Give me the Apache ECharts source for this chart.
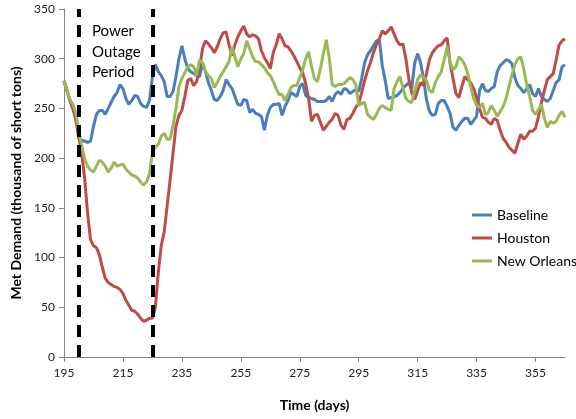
<!DOCTYPE html>
<html>
<head>
<meta charset="utf-8">
<script src="https://cdn.jsdelivr.net/npm/echarts@6/dist/echarts.min.js"></script>
<style>html,body{margin:0;padding:0;background:#fff}#c{width:576px;height:419px}</style>
</head>
<body>
<div id="c"></div>
<script>
// Days 195..365
var days = [];
for (var d = 195; d <= 365; d++) days.push(String(d));

var baseline = [
278,268,258,250,239,220,218,217,216,217,
232,244,248,248,244,250,256,262,266,274,
270,260,254,258,263,262,255,252,251,258,
282,294,287,283,277,262,262,267,282,300,
313,300,290,287,285,283,282,296,287,276,
268,259,258,262,268,279,274,270,262,254,
253,259,258,246,249,245,244,242,228,243,
251,254,254,255,243,252,258,266,264,262,
272,275,263,261,260,259,257,257,257,258,
262,257,264,267,264,270,269,265,267,269,
267,280,296,304,308,313,318,319,293,278,
260,261,262,263,266,270,273,276,270,296,
305,296,280,259,247,243,244,255,258,258,
252,245,231,228,233,237,240,240,234,238,
242,268,275,268,267,270,272,287,293,296,
299,298,295,281,273,270,266,270,274,265,
262,270,262,259,257,260,268,276,279,292,
294];

var houston = [
277,268,258,250,240,222,205,180,145,118,
112,110,103,90,79,75,73,71,70,68,
64,57,52,47,46,43,39,36,37,39,
39,50,85,112,126,152,178,205,232,243,
248,262,278,280,273,277,290,310,318,315,
311,306,312,320,326,327,314,303,314,322,
328,333,325,322,324,323,320,308,301,296,
290,306,314,325,320,313,312,308,303,297,
291,286,275,260,237,243,244,236,228,232,
236,239,245,243,233,229,239,240,245,251,
255,266,278,288,296,306,314,320,328,325,
328,332,325,318,314,315,300,280,266,259,
268,276,273,285,299,306,310,313,314,318,
321,296,280,265,261,272,282,279,276,270,
261,250,241,240,236,234,240,238,228,220,
216,211,208,205,215,224,219,222,227,227,
230,242,256,268,279,282,285,299,314,318,
320];

var newOrleans = [
278,268,259,254,246,228,213,199,192,188,
186,192,198,196,192,186,190,196,192,193,
194,189,186,183,182,180,176,173,176,184,
205,211,214,222,225,219,219,233,250,272,
280,286,292,294,292,283,299,296,287,283,
280,271,276,282,287,292,297,312,302,292,
300,305,318,310,302,297,297,294,291,286,
283,277,270,264,264,258,264,271,273,273,
281,289,300,307,292,280,277,290,305,319,
301,274,272,274,274,275,278,281,279,274,
253,255,256,244,241,239,244,250,253,251,
249,248,270,277,282,271,260,257,256,268,
279,284,281,278,268,266,276,282,287,299,
312,296,289,292,302,299,294,285,272,260,
253,251,255,244,246,253,248,242,247,252,
260,272,284,294,300,302,290,274,262,248,
244,249,254,240,231,237,235,237,243,247,
241];

var yTicks = {min: 0, max: 350, step: 50};
var outageDays = ['200', '225'];
var seriesNames = ['Baseline', 'Houston', 'New Orleans'];
var colors = ['#4A7EBB', '#BE4B48', '#98B954'];

var chart = echarts.init(document.getElementById('c'), null, {renderer: 'canvas'});
var font = 'Lato, "Open Sans", sans-serif';
chart.setOption({
  animation: false,
  color: colors,
  textStyle: {fontFamily: font},
  grid: {left: 64, right: 11, top: 9, bottom: 62, containLabel: false},
  legend: {
    data: seriesNames,
    orient: 'vertical',
    left: 467, top: 203,
    icon: 'rect', itemWidth: 20, itemHeight: 3, itemGap: 9,
    textStyle: {fontSize: 14, color: '#000', fontFamily: font}
  },
  xAxis: {
    type: 'category', data: days, boundaryGap: false,
    name: 'Time (days)', nameLocation: 'middle', nameGap: 41,
    nameTextStyle: {fontSize: 14, fontWeight: 'bold', color: '#000', fontFamily: font},
    axisLine: {lineStyle: {color: '#868686', width: 1}},
    axisTick: {show: true, interval: 19, length: 5, lineStyle: {color: '#868686'}},
    axisLabel: {interval: 19, fontSize: 12, color: '#222', margin: 10}
  },
  yAxis: {
    type: 'value', min: yTicks.min, max: yTicks.max, interval: yTicks.step,
    name: 'Met Demand (thousand of short tons)', nameLocation: 'middle', nameGap: 40,
    nameTextStyle: {fontSize: 14, fontWeight: 'bold', color: '#000', fontFamily: font},
    splitLine: {show: false},
    axisLine: {show: true, lineStyle: {color: '#868686', width: 1}},
    axisTick: {show: true, length: 5, lineStyle: {color: '#868686'}},
    axisLabel: {fontSize: 12, color: '#222', margin: 9}
  },
  graphic: [{
    type: 'text', left: 92, top: 21,
    style: {text: 'Power\nOutage\nPeriod', fontSize: 15, lineHeight: 20.5, fill: '#000', fontFamily: font}
  }],
  series: [
    {name: seriesNames[0], type: 'line', data: baseline, showSymbol: false, lineStyle: {width: 3}},
    {name: seriesNames[1], type: 'line', data: houston, showSymbol: false, lineStyle: {width: 3}},
    {name: seriesNames[2], type: 'line', data: newOrleans, showSymbol: false, lineStyle: {width: 3},
     markLine: {
       silent: true, symbol: ['none', 'none'], label: {show: false},
       lineStyle: {color: '#000', width: 4, type: [12, 8]},
       data: outageDays.map(function (d) { return {xAxis: d}; })
     }}
  ]
});
</script>
</body>
</html>
